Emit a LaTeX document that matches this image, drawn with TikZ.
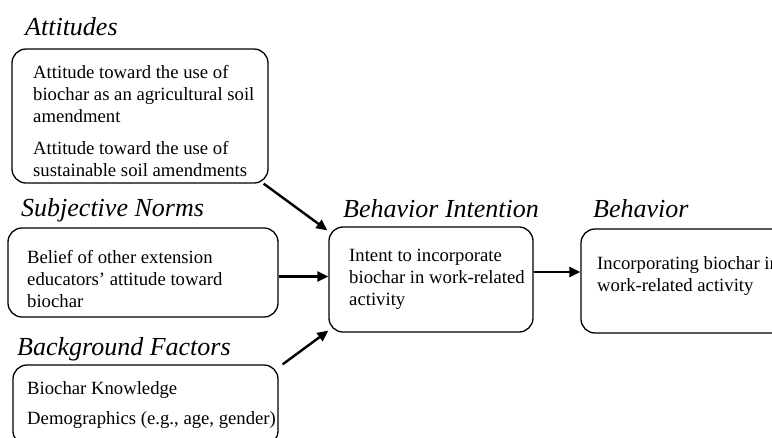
\documentclass[tikz,border=0pt]{standalone}
\usepackage{fontspec}
\setmainfont{Liberation Serif}
\usetikzlibrary{arrows.meta}
\begin{document}
\begin{tikzpicture}[x=1pt,y=-1pt,
  box/.style={draw, line width=1.3pt, rounded corners=14pt, inner sep=0pt},
  body/.style={anchor=west, align=left, inner sep=0pt, font=\fontsize{18.7}{22}\selectfont},
  ttl/.style={anchor=base west, inner sep=0pt, font=\fontsize{26}{30}\selectfont\itshape},
  conn/.style={line width=2.4pt, -{Triangle[length=11pt,width=10pt]}}]
\useasboundingbox (0,0) rectangle (772,437);
\clip (0,0) rectangle (772,437);
% titles
\node[ttl] (tA) at (25,35) {Attitudes};
\node[ttl] (tSN) at (21,216) {Subjective Norms};
\node[ttl] (tBF) at (17,355) {Background Factors};
\node[ttl] (tBI) at (343,217) {Behavior Intention};
\node[ttl] (tB) at (593,217) {Behavior};
% boxes
\node[box, minimum width=256pt, minimum height=134pt] (A) at (140,116) {};
\node[box, minimum width=270pt, minimum height=89pt] (SN) at (143,272.5) {};
\node[box, minimum width=265pt, minimum height=80pt] (BF) at (145.5,405) {};
\node[box, minimum width=204pt, minimum height=105pt] (BI) at (431,279.5) {};
\node[box, minimum width=219pt, minimum height=104pt] (B) at (690.5,281) {};
% texts
\node[body] (xA) at (33,121.5) {Attitude toward the use of\\biochar as an agricultural soil\\amendment\\[10pt]Attitude toward the use of\\sustainable soil amendments};
\node[body] (xSN) at (27,279) {Belief of other extension\\educators’ attitude toward\\biochar};
\node[body] (xBF) at (27,405.5) {Biochar Knowledge\\[8pt]Demographics (e.g., age, gender)};
\node[body] (xBI) at (349,279) {Intent to incorporate\\biochar in work-related\\activity};
\node[body] (xB) at (597,276.5) {Incorporating biochar in\\work-related activity};
% connectors
\draw[conn] ([xshift=-5pt]A.south east) -- ([xshift=-1pt,yshift=-4pt]BI.north west);
\draw[conn] ([yshift=-4pt]SN.east) -- ([yshift=-4pt]SN.east -| BI.west);
\draw[conn] ([xshift=4pt]BF.north east) -- ([yshift=2pt]BI.south west);
\draw[conn] ([yshift=7.5pt]BI.east) -- ([yshift=7.5pt]BI.east -| B.west);
\end{tikzpicture}
\end{document}
